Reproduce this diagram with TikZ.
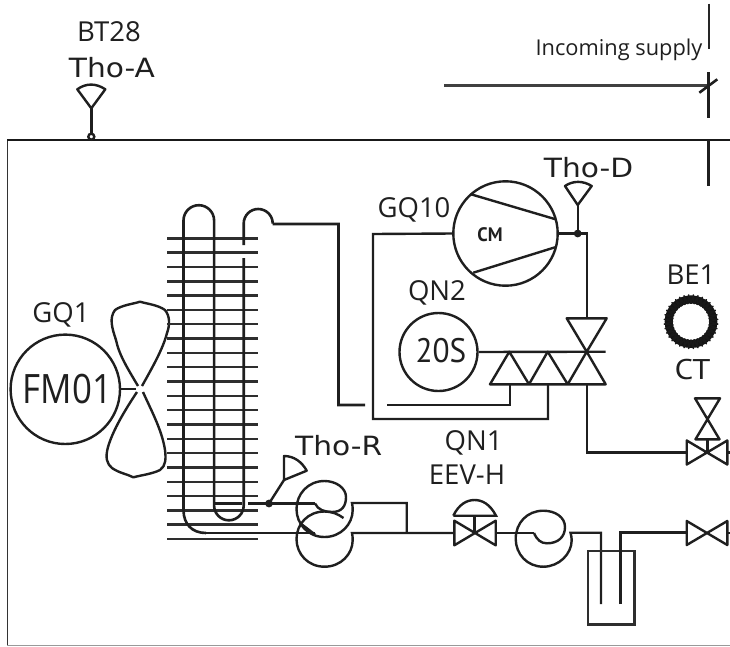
\documentclass[tikz,border=0pt]{standalone}
\usepackage{fontspec}
\setmainfont{Open Sans}
\newfontfamily\cadfont{DejaVu Sans}
\newfontfamily\dinfont{PT Sans}
\tikzset{
  pipe/.style={line width=2.4pt,draw=black!88},
  thin pipe/.style={line width=1.8pt,draw=black!88},
  fin/.style={line width=2.5pt,draw=black!82},
  label/.style={anchor=base,inner sep=0pt,outer sep=0pt,text=black!88,font=\fontsize{27.5}{27}\selectfont},
  cad/.style={anchor=base,inner sep=0pt,outer sep=0pt,text=black!88,xscale=1.12,font=\cadfont\fontsize{26.5}{26}\selectfont},
}
\begin{document}
\begin{tikzpicture}[x=1pt,y=-1pt,line join=miter]
\useasboundingbox (0,0) rectangle (730,646);
% frame
\draw[line width=1.9pt,draw=black!80] (7.5,645) -- (7.5,140);
\draw[line width=2.2pt,draw=black!90] (7,140) -- (730,140);
\draw[line width=1.2pt,draw=black!40] (7,645.3) -- (730,645.3);
% incoming supply
\draw[line width=1.2pt,draw=black!85] (709,3.5) -- (709,49);
\draw[line width=2.8pt,draw=black!75] (444,85.7) -- (708,85.7);
\draw[pipe,line width=2.6pt] (708.3,72) -- (708.3,118);
\draw[pipe,line width=2.6pt] (699.3,92.7) -- (717.3,79.3);
\draw[pipe,line width=2.6pt] (708.3,140) -- (708.3,186);
% labels
\node[label] (bt28) at (109,41) {BT28};
\node[cad] (thoa) at (112,77) {Tho-A};
\node[cad] (thod) at (588.5,177) {Tho-D};
\node[cad] (thor) at (338.7,455) {Tho-R};
\node[label,font=\fontsize{21.8}{22}\selectfont] (inc) at (619,55) {Incoming supply};
\node[label] (gq10) at (414,217.5) {GQ10};
\node[label] (qn2) at (437,300) {QN2};
\node[label] (be1) at (691,284.3) {BE1};
\node[label] (gq1) at (61,322.7) {GQ1};
\node[label] (qn1) at (473.6,450.7) {QN1};
\node[label] (eev) at (467,484) {EEV-H};
\node[anchor=base,inner sep=0pt,text=black!88,xscale=1.15,font=\dinfont\fontsize{28.5}{28}\selectfont] (ct) at (692.5,379) {CT};
% sensor A
\coordinate (dotA) at (91.3,136.7);
\draw[pipe] (91.3,134) -- (91.3,108.3);
\draw[pipe,line join=round] (91.3,108.3) -- (77.3,89.3) .. controls (86,83) and (96,83) .. (105.3,89.3) -- cycle;
\draw[pipe,fill=white] (dotA) circle[radius=3];
% fan motor
\node[circle,draw=black!88,line width=2.4pt,minimum size=109.4pt,inner sep=0pt] (fm) at (65.3,389.3) {};
\node[anchor=base,inner sep=0pt,text=black!88,xscale=.86,font=\fontsize{40.5}{40}\selectfont] (fmt) at (67.5,403.3) {FM01};
\draw[thin pipe] (fm.east) -- (136,389.3);
\coordinate (hub) at (140,388.8);
\draw[pipe,line join=round] (138,386) .. controls (128,369) and (119,355) .. (116,340) .. controls (112,328) and (109,318) .. (115,310) .. controls (122,305) and (133,304) .. (140,301.7) .. controls (148,304) and (158,305) .. (165,310) .. controls (170,316) and (170,325) .. (167,333) .. controls (163,349) and (152,368) .. (142,386);
\draw[pipe,line join=round] (137,392) .. controls (125,410) and (113,430) .. (108,447) .. controls (105,458) and (107,464) .. (112,468) .. controls (119,473) and (127,474) .. (133.3,477.3) .. controls (142,475) and (152,474) .. (160,470) .. controls (166,466) and (166,458) .. (165,450) .. controls (162,430) and (151,410) .. (143,392);
% fins
\foreach \k in {0,...,21} \draw[fin] (167,238.3+14.32*\k) -- (258,238.3+14.32*\k);
% tubes
\draw[pipe,line width=2.6pt] (206,533) .. controls (192,533) and (183.5,524) .. (183.5,510) -- (183.5,220.5) arc[start angle=180,end angle=360,radius=15.3] -- (214.1,505.5) arc[start angle=180,end angle=0,radius=14.8] -- (243.7,258);
\draw[pipe,line width=2.6pt] (243.7,245) -- (243.7,223.5) arc[start angle=180,end angle=360,radius=14.5] (272.7,224) -- (338.5,224) -- (338.5,405) -- (365,405);
\draw[pipe] (206,533) -- (315,533);
\draw[pipe] (214,503.5) -- (242,503.5);
\coordinate (junR) at (269,503.5);
\draw[pipe] (248,503.5) -- (315,503.5);
% sensor R
\draw[pipe] (junR) -- (284,480);
\draw[pipe,line join=round] (284,480) -- (284,456) .. controls (294,456) and (302,462) .. (306.7,470.7) -- cycle;
\fill[black!88] (junR) circle[radius=3.9];
% coils left
\draw[pipe] (315,503.5) .. controls (318,510) and (325,512) .. (332,512) .. controls (342,512) and (346,506) .. (346,497) .. controls (346,488) and (336,481) .. (324.5,481) .. controls (308,481) and (296.5,494) .. (296.5,509) .. controls (296.5,524) and (308,537) .. (324.5,537) .. controls (341,537) and (352.7,524) .. (352.7,510) .. controls (352.7,507) and (352.4,505) .. (352,503) -- (406.7,503) -- (406.7,533);
\draw[pipe] (343.5,518) .. controls (338,514) and (332,511.5) .. (324.5,511.5) .. controls (308,511.5) and (296.5,524) .. (296.5,539) .. controls (296.5,554) and (308,566.7) .. (324.5,566.7) .. controls (341,566.7) and (352.7,554) .. (352.7,540) .. controls (352.7,537) and (352.4,535) .. (352,533) -- (454,533);
\draw[pipe] (300,523) -- (315,534.5);
% EEV
\draw[pipe,line join=round] (454.3,520.7) -- (495.7,545.3) -- (495.7,520.7) -- (454.3,545.3) -- cycle;
\draw[pipe] (474.5,533) -- (474.5,515.7);
\draw[pipe] (453.3,515.7) -- (496,515.7) .. controls (490,504) and (482,500) .. (474.6,500) .. controls (467,500) and (459,504) .. (453.3,515.7);
\draw[pipe] (495.7,533) -- (534,533);
% coil right
\draw[pipe] (534,533) .. controls (537,540) and (541,543.3) .. (547,543.3) .. controls (558,543.3) and (565,537) .. (565,527) .. controls (565,517) and (555,510.7) .. (543.3,510.7) .. controls (527,510.7) and (515.7,523) .. (515.7,538.7) .. controls (515.7,554) and (527,566.7) .. (543.3,566.7) .. controls (559,566.7) and (571.7,554) .. (571.7,540) .. controls (571.7,537) and (571,535) .. (570.5,532.7) -- (601,532.7) -- (601,604);
% accumulator
\node[draw=black!82,line width=2.4pt,minimum width=46.3pt,minimum height=73.3pt,inner sep=0pt] (acc) at (611.2,587.7) {};
\draw[pipe] (620.3,604) -- (620.3,532.5) -- (687,532.5);
% service valves
\draw[pipe,line join=round] (686.7,521) -- (727.3,545) -- (727.3,521) -- (686.7,545) -- cycle;
\draw[pipe] (727.3,533) -- (730,533);
\draw[pipe,line join=round] (686.7,440.5) -- (727.3,464.5) -- (727.3,440.5) -- (686.7,464.5) -- cycle;
\draw[pipe] (727.3,452.5) -- (730,452.5);
\draw[pipe] (707.3,452.5) -- (707.3,439.3);
\draw[pipe,line join=round] (695,398.3) -- (720,398.3) -- (695.5,439.3) -- (719.5,439.3) -- cycle;
\draw[pipe] (586.7,384.3) -- (586.7,452.3) -- (687,452.3);
% compressor
\node[circle,draw=black!88,line width=2.4pt,minimum size=104.4pt,inner sep=0pt] (cm) at (505.5,233.5) {};
\draw[pipe] (471,194.3) -- (555.7,219.3);
\draw[pipe] (473.3,272.7) -- (555,247.3);
\node[anchor=base,inner sep=0pt,text=black!88,xscale=.95,font=\dinfont\bfseries\fontsize{19.5}{19}\selectfont] (cmt) at (490,241.7) {CM};
\coordinate (junD) at (577.7,233.5);
\draw[pipe] (cm.east) -- (586.7,233.5) -- (586.7,318.3);
\draw[pipe] (junD) -- (577.7,205);
\draw[pipe,line join=round] (577.7,205) -- (565,186) .. controls (573,180.5) and (583,180.5) .. (591.7,186) -- cycle;
\fill[black!88] (junD) circle[radius=3.9];
\draw[pipe] (cm.west) -- (373,234) -- (373,419) -- (548,419) -- (548,384.3);
\draw[pipe] (387,405) -- (510,405) -- (510,384.3);
% four-way valve
\node[circle,draw=black!88,line width=2.4pt,minimum size=78pt,inner sep=0pt] (qn) at (438.5,352) {};
\node[anchor=base,inner sep=0pt,text=black!88,xscale=.92,font=\dinfont\fontsize{34}{34}\selectfont] (st) at (441,362.3) {20S};
\draw[pipe] (qn.east) -- (605.7,351.7);
\draw[pipe,line join=round] (490,384.3) -- (605.7,384.3) -- (586.7,351.7) -- (567.7,384.3) -- (547.7,351.7) -- (529,384.3) -- (509.3,351.7) -- cycle;
\draw[pipe,line join=round] (586.7,351.7) -- (566.7,318.3) -- (606.7,318.3) -- cycle;
% current transformer
\coordinate (be) at (691,321.7);
\draw[line width=8pt,draw=black!92] (be) circle[radius=22.3];
\begin{scope}[shift={(be)},line join=round]
\foreach \i in {0,...,35} \draw[line width=1.4pt,draw=black!90] (\i*10:18) -- ({\i*10+5}:26.9) -- ({\i*10+10}:18);
\end{scope}
\end{tikzpicture}
\end{document}
